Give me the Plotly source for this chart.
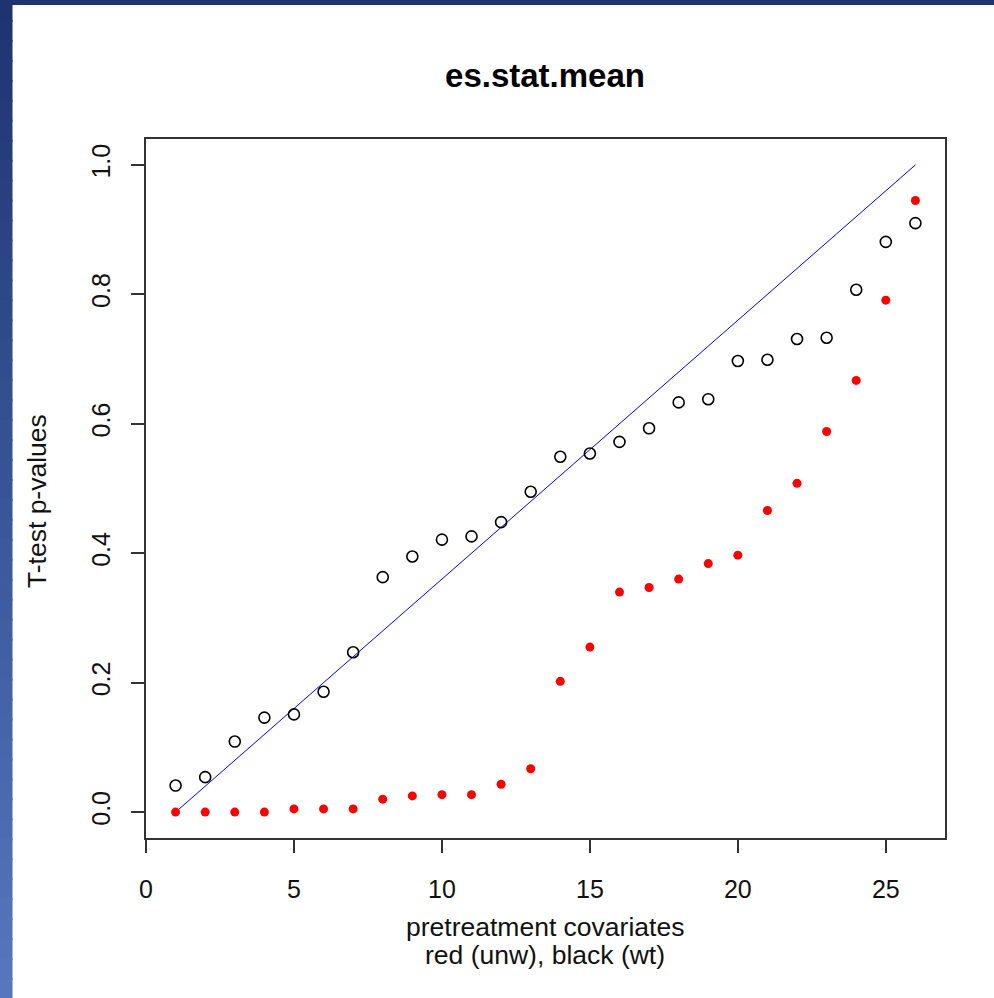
import plotly.graph_objects as go

# ---- data ----
covariates = list(range(1, 27))
pval_wt = [0.041, 0.054, 0.109, 0.146, 0.151, 0.186, 0.247, 0.363, 0.395, 0.421,
           0.426, 0.448, 0.495, 0.549, 0.554, 0.572, 0.593, 0.633, 0.638, 0.697,
           0.699, 0.731, 0.733, 0.807, 0.881, 0.910]
pval_unw = [0.000, 0.000, 0.000, 0.000, 0.005, 0.005, 0.005, 0.020, 0.025, 0.027,
            0.027, 0.043, 0.067, 0.202, 0.255, 0.340, 0.347, 0.360, 0.384, 0.397,
            0.466, 0.508, 0.588, 0.667, 0.791, 0.945]
ref_x = [1, 26]
ref_y = [0, 1]
x_ticks = [0, 5, 10, 15, 20, 25]
y_ticks = [0.0, 0.2, 0.4, 0.6, 0.8, 1.0]

W, H = 994, 998
L, R, T, B = 146, 49, 139, 160
PW, PH = W - L - R, H - T - B

def px_x(p):
    return (p - L) / PW

def px_y(p):
    return (H - B - p) / PH

FONT = "Liberation Sans, Arial, sans-serif"

fig = go.Figure()
fig.add_trace(go.Scatter(x=ref_x, y=ref_y, mode="lines",
                         line=dict(color="#0000ff", width=1), hoverinfo="skip"))
fig.add_trace(go.Scatter(x=covariates, y=pval_wt, mode="markers",
                         marker=dict(symbol="circle-open", size=11,
                                     line=dict(color="black", width=1.6), color="black")))
fig.add_trace(go.Scatter(x=covariates, y=pval_unw, mode="markers",
                         marker=dict(symbol="circle", size=9, color="#ff0000",
                                     line=dict(width=0))))

shapes = []
# left gradient band
N = 50
c0 = (30, 52, 112)
c1 = (86, 118, 190)
for i in range(N):
    t = i / (N - 1)
    col = tuple(round(c0[k] + (c1[k] - c0[k]) * t) for k in range(3))
    y_top = H * i / N
    y_bot = H * (i + 1) / N + 2
    shapes.append(dict(type="rect", xref="paper", yref="paper",
                       x0=px_x(-2), x1=px_x(12), y0=px_y(y_bot), y1=px_y(y_top),
                       fillcolor="rgb(%d,%d,%d)" % col,
                       line=dict(width=1, color="rgb(%d,%d,%d)" % col), layer="below"))
# top band
shapes.append(dict(type="rect", xref="paper", yref="paper",
                   x0=px_x(-2), x1=px_x(W + 2), y0=px_y(5), y1=px_y(-2),
                   fillcolor="rgb(30,52,112)", line=dict(width=0), layer="below"))

annotations = [
    dict(text="pretreatment covariates", xref="paper", yref="paper",
         x=px_x(545), y=px_y(927), xanchor="center", yanchor="middle",
         showarrow=False, font=dict(family=FONT, size=26.5, color="#111")),
    dict(text="red (unw), black (wt)", xref="paper", yref="paper",
         x=px_x(545), y=px_y(955), xanchor="center", yanchor="middle",
         showarrow=False, font=dict(family=FONT, size=26.5, color="#111")),
    dict(text="T-test p-values", xref="paper", yref="paper",
         x=px_x(37), y=px_y(501), xanchor="center", yanchor="middle", textangle=-90,
         showarrow=False, font=dict(family=FONT, size=26.5, color="#111")),
]

fig.update_layout(
    width=W, height=H,
    margin=dict(l=L, r=R, t=T, b=B),
    paper_bgcolor="white", plot_bgcolor="white",
    showlegend=False,
    title=dict(text="<b>es.stat.mean</b>", x=px_x(545), xref="paper", xanchor="center",
               y=1 - 75 / H, yref="container", yanchor="middle",
               font=dict(family=FONT, size=33, color="black")),
    shapes=shapes,
    annotations=annotations,
    xaxis=dict(range=[0, 27], tickvals=x_ticks, ticktext=[str(v) for v in x_ticks],
               showgrid=False, zeroline=False, showline=True, mirror=True,
               linecolor="#333", linewidth=1.5, ticks="outside", ticklen=13,
               tickwidth=1.5, tickcolor="#333", ticklabelstandoff=15,
               tickfont=dict(family=FONT, size=25, color="#111")),
    yaxis=dict(range=[-0.04, 1.04], tickvals=y_ticks, ticktext=["%.1f" % v for v in y_ticks],
               tickangle=-90, ticklabelstandoff=11,
               showgrid=False, zeroline=False, showline=True, mirror=True,
               linecolor="#333", linewidth=1.5, ticks="outside", ticklen=13,
               tickwidth=1.5, tickcolor="#333",
               tickfont=dict(family=FONT, size=25, color="#111")),
)

fig.write_html("out.html", config={"displayModeBar": False},
               post_script="document.body.style.margin='0';document.body.style.overflow='hidden';")
